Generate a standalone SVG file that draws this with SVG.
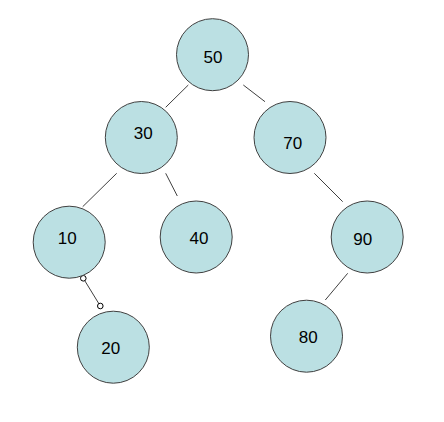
<svg xmlns="http://www.w3.org/2000/svg" width="444" height="422" viewBox="0 0 444 422">
<style>
.n{fill:#BBE0E3;stroke:#404040;stroke-width:1}
.t{font-family:"Liberation Sans",Arial,sans-serif;font-size:17px;fill:#000;text-anchor:middle}
.e{stroke:#404040;stroke-width:1;fill:none}
.h{fill:#fff;stroke:#000;stroke-width:1}
</style>
<rect width="444" height="422" fill="#fff"/>
<g id="connectors">
<line class="e" x1="188.3" y1="85" x2="165.7" y2="107.3"/>
<line class="e" x1="243.3" y1="85" x2="265" y2="101.7"/>
<line class="e" x1="116.7" y1="173.3" x2="82.7" y2="206.7"/>
<line class="e" x1="165.7" y1="173.3" x2="177.3" y2="196"/>
<line class="e" x1="314.3" y1="173.3" x2="342.7" y2="201.7"/>
<line class="e" x1="347.7" y1="273.3" x2="325.3" y2="300"/>
<line class="e" x1="83.3" y1="278.3" x2="100.3" y2="306"/>
<circle class="h" cx="83.3" cy="278.3" r="2.8"/>
<circle class="h" cx="100.3" cy="306" r="2.8"/>
</g>
<g id="n50"><circle class="n" cx="212.5" cy="54.7" r="36"/><text class="t" x="213" y="62.7">50</text></g>
<g id="n30"><circle class="n" cx="141.3" cy="137.5" r="36"/><text class="t" x="143.3" y="138.7">30</text></g>
<g id="n70"><circle class="n" cx="290" cy="137.5" r="36"/><text class="t" x="292.7" y="149.3">70</text></g>
<g id="n10"><circle class="n" cx="69.2" cy="242.2" r="36"/><text class="t" x="67.3" y="243.7">10</text></g>
<g id="n40"><circle class="n" cx="196.2" cy="237" r="36"/><text class="t" x="199" y="243.7">40</text></g>
<g id="n90"><circle class="n" cx="367.2" cy="237" r="36"/><text class="t" x="362.7" y="245">90</text></g>
<g id="n20"><circle class="n" cx="113.3" cy="347.2" r="36"/><text class="t" x="110.7" y="353.7">20</text></g>
<g id="n80"><circle class="n" cx="306.5" cy="336.2" r="36"/><text class="t" x="308.3" y="342.7">80</text></g>
</svg>
